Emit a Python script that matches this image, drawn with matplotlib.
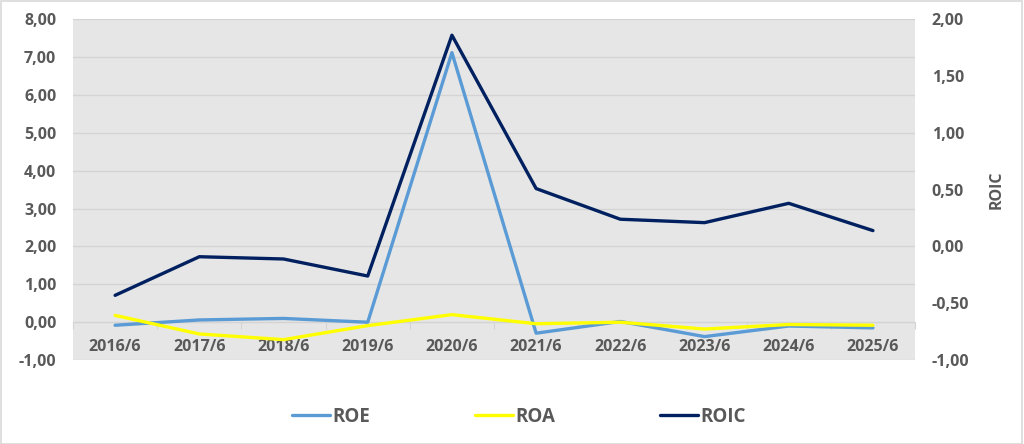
import matplotlib.pyplot as plt
from matplotlib.patches import Rectangle
from matplotlib.ticker import FuncFormatter, FixedLocator

# data
years = ["2016/6", "2017/6", "2018/6", "2019/6", "2020/6",
         "2021/6", "2022/6", "2023/6", "2024/6", "2025/6"]
roe = [-0.08, 0.06, 0.10, 0.00, 7.12, -0.29, 0.02, -0.38, -0.10, -0.15]
roa = [0.18, -0.31, -0.46, -0.09, 0.20, -0.04, 0.00, -0.18, -0.06, -0.08]
roic = [-0.43, -0.09, -0.11, -0.26, 1.86, 0.51, 0.24, 0.21, 0.38, 0.14]

txt = "#595959"
plt.rcParams['font.family'] = ['Open Sans', 'DejaVu Sans']
plt.rcParams['font.weight'] = 'bold'

fig = plt.figure(figsize=(10.24, 4.44), dpi=100)
fig.patches.append(Rectangle((0.0005, 0.001), 0.998, 0.997, transform=fig.transFigure,
                             fill=False, edgecolor="#d9d9d9", linewidth=1.2))

ax = fig.add_axes([0.0713, 0.189, 0.8223, 0.7675])
ax.set_facecolor("#e6e6e6")
x = list(range(len(years)))

ax.plot(x, roe, color="#5b9bd5", lw=2.4, solid_capstyle="round", label="ROE", zorder=3)
ax.plot(x, roa, color="#ffff00", lw=2.4, solid_capstyle="round", label="ROA", zorder=3)
ax.set_xlim(-0.5, len(years) - 0.5)
ax.set_ylim(-1, 8)
ax.set_yticks(range(-1, 9))
ax.yaxis.set_major_formatter(FuncFormatter(lambda v, p: f"{v:.2f}".replace(".", ",")))
ax.grid(axis="y", color="#d4d4d4", lw=1)
ax.set_axisbelow(True)
for s in ["top", "right", "left"]:
    ax.spines[s].set_visible(False)
ax.spines["bottom"].set_position(("data", 0))
ax.spines["bottom"].set_color("#d4d4d4")
ax.xaxis.set_major_locator(FixedLocator([i - 0.5 for i in range(len(years) + 1)]))
ax.xaxis.set_minor_locator(FixedLocator(x))
ax.set_xticklabels([], minor=False)
ax.set_xticklabels(years, minor=True)
ax.tick_params(axis="x", which="major", length=5, color="#d4d4d4")
ax.tick_params(axis="x", which="minor", length=0, pad=12, labelsize=11.5, labelcolor=txt)
ax.tick_params(axis="y", length=0, pad=12, labelsize=11.5, labelcolor=txt)

ax2 = ax.twinx()
ax2.plot(x, roic, color="#002060", lw=2.4, solid_capstyle="round", label="ROIC", zorder=3)
ax2.set_ylim(-1, 2)
ax2.set_yticks([-1, -0.5, 0, 0.5, 1, 1.5, 2])
ax2.yaxis.set_major_formatter(FuncFormatter(lambda v, p: f"{v:.2f}".replace(".", ",")))
for s in ax2.spines.values():
    s.set_visible(False)
ax2.tick_params(axis="y", length=0, pad=12, labelsize=11.5, labelcolor=txt)
ax2.set_ylabel("ROIC", color=txt, fontsize=11.5, fontweight="bold", labelpad=14)

h1, l1 = ax.get_legend_handles_labels()
h2, l2 = ax2.get_legend_handles_labels()
fig.legend(h1 + h2, l1 + l2, loc="center", bbox_to_anchor=(0.507, 0.061), ncol=3,
           frameon=False, fontsize=13.5, handlelength=2.0, handletextpad=0.15,
           columnspacing=5.6, labelcolor=txt)

fig.savefig("out.png", dpi=100)
